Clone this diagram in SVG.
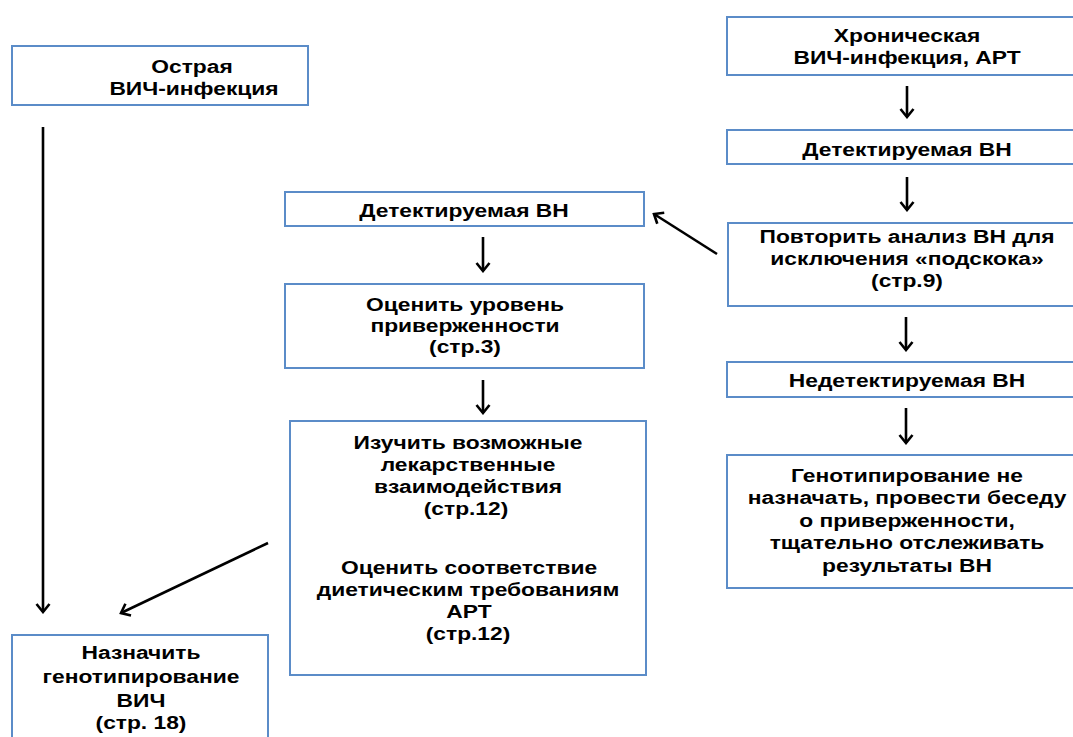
<svg xmlns="http://www.w3.org/2000/svg" width="1073" height="737" viewBox="0 0 1073 737">
<style>
.box{fill:#fff;stroke:#5b8cc8;stroke-width:2}
.t{font-family:"Liberation Sans",Arial,sans-serif;font-weight:bold;font-size:19px;fill:#000;text-anchor:middle}
.c{stroke:#000;stroke-width:2.6;fill:none}
</style>
<defs>
<marker id="ah2" viewBox="-11 -9 13 18" refX="0" refY="0" markerWidth="13" markerHeight="18" markerUnits="userSpaceOnUse" orient="auto">
<path d="M-8,-6.5 L0,0 L-8,6.5" fill="none" stroke="#000" stroke-width="2.6"/>
</marker>
</defs>
<rect width="1073" height="737" fill="#fff"/>
<g id="connectors">
<line class="c" x1="43" y1="127" x2="43" y2="612" marker-end="url(#ah2)"/>
<line class="c" x1="268" y1="543" x2="121" y2="613" marker-end="url(#ah2)"/>
<line class="c" x1="717" y1="254" x2="654" y2="214" marker-end="url(#ah2)"/>
<line class="c" x1="907" y1="86" x2="907" y2="117" marker-end="url(#ah2)"/>
<line class="c" x1="907" y1="177" x2="907" y2="210" marker-end="url(#ah2)"/>
<line class="c" x1="906" y1="317" x2="906" y2="350" marker-end="url(#ah2)"/>
<line class="c" x1="906" y1="408" x2="906" y2="443" marker-end="url(#ah2)"/>
<line class="c" x1="483" y1="237" x2="483" y2="271" marker-end="url(#ah2)"/>
<line class="c" x1="483" y1="380" x2="483" y2="413" marker-end="url(#ah2)"/>
</g>
<g id="n-acute">
<rect class="box" x="12" y="46" width="296" height="59"/>
<text class="t" transform="translate(192 73) scale(1.2 1)">Острая</text>
<text class="t" transform="translate(194 95) scale(1.2 1)">ВИЧ-инфекция</text>
</g>
<g id="n-chronic">
<rect class="box" x="727" y="17" width="360" height="58"/>
<text class="t" transform="translate(907 42) scale(1.2 1)">Хроническая</text>
<text class="t" transform="translate(907 64) scale(1.2 1)">ВИЧ-инфекция, АРТ</text>
</g>
<g id="n-detect-right">
<rect class="box" x="727" y="130" width="360" height="34"/>
<text class="t" transform="translate(907 156) scale(1.2 1)">Детектируемая ВН</text>
</g>
<g id="n-repeat">
<rect class="box" x="728" y="223" width="360" height="83"/>
<text class="t" transform="translate(907 243) scale(1.2 1)">Повторить анализ ВН для</text>
<text class="t" transform="translate(907 265) scale(1.2 1)">исключения «подскока»</text>
<text class="t" transform="translate(907 287) scale(1.2 1)">(стр.9)</text>
</g>
<g id="n-undetect">
<rect class="box" x="727" y="362" width="360" height="35"/>
<text class="t" transform="translate(907 387) scale(1.2 1)">Недетектируемая ВН</text>
</g>
<g id="n-nogeno">
<rect class="box" x="727" y="455" width="360" height="133"/>
<text class="t" transform="translate(907 482) scale(1.2 1)">Генотипирование не</text>
<text class="t" transform="translate(907 504) scale(1.2 1)">назначать, провести беседу</text>
<text class="t" transform="translate(907 527) scale(1.2 1)">о приверженности,</text>
<text class="t" transform="translate(907 549) scale(1.2 1)">тщательно отслеживать</text>
<text class="t" transform="translate(907 572) scale(1.2 1)">результаты ВН</text>
</g>
<g id="n-detect-left">
<rect class="box" x="285" y="192" width="359" height="34"/>
<text class="t" transform="translate(464 217) scale(1.2 1)">Детектируемая ВН</text>
</g>
<g id="n-adherence">
<rect class="box" x="285" y="284" width="359" height="84"/>
<text class="t" transform="translate(465 311) scale(1.2 1)">Оценить уровень</text>
<text class="t" transform="translate(465 332) scale(1.2 1)">приверженности</text>
<text class="t" transform="translate(465 353) scale(1.2 1)">(стр.3)</text>
</g>
<g id="n-interactions">
<rect class="box" x="290" y="421" width="356" height="254"/>
<text class="t" transform="translate(468 449) scale(1.2 1)">Изучить возможные</text>
<text class="t" transform="translate(468 471) scale(1.2 1)">лекарственные</text>
<text class="t" transform="translate(468 493) scale(1.2 1)">взаимодействия</text>
<text class="t" transform="translate(466 515) scale(1.2 1)">(стр.12)</text>
<text class="t" transform="translate(469 574) scale(1.2 1)">Оценить соответствие</text>
<text class="t" transform="translate(468 596) scale(1.2 1)">диетическим требованиям</text>
<text class="t" transform="translate(469 618) scale(1.2 1)">АРТ</text>
<text class="t" transform="translate(468 640) scale(1.2 1)">(стр.12)</text>
</g>
<g id="n-genotype">
<rect class="box" x="12" y="635" width="256" height="120"/>
<text class="t" transform="translate(141 659) scale(1.2 1)">Назначить</text>
<text class="t" transform="translate(141 683) scale(1.2 1)">генотипирование</text>
<text class="t" transform="translate(141 707) scale(1.2 1)">ВИЧ</text>
<text class="t" transform="translate(141 729) scale(1.2 1)">(стр. 18)</text>
</g>
</svg>
